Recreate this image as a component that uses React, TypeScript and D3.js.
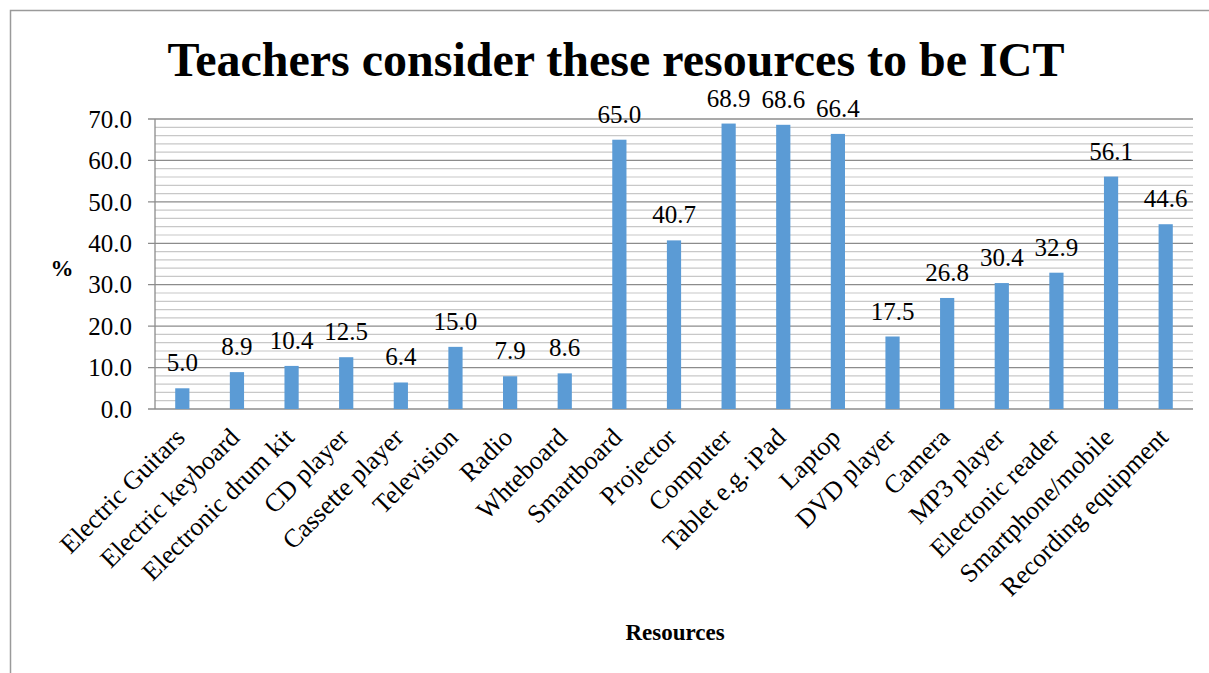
import React from "react";
import * as d3 from "d3";

const categories = [
  "Electric Guitars", "Electric keyboard", "Electronic drum kit", "CD player",
  "Cassette player", "Television", "Radio", "Whteboard", "Smartboard", "Projector",
  "Computer", "Tablet e.g. iPad", "Laptop", "DVD player", "Camera", "MP3 player",
  "Electonic reader", "Smartphone/mobile", "Recording equipment",
];
const values = [5.0, 8.9, 10.4, 12.5, 6.4, 15.0, 7.9, 8.6, 65.0, 40.7, 68.9, 68.6, 66.4, 17.5, 26.8, 30.4, 32.9, 56.1, 44.6];
const majorTicks = [0, 10, 20, 30, 40, 50, 60, 70];
const minorTicks = d3.range(0, 70.001, 2);

const W = 1209, H = 673;
const left = 155, right = 1193, top = 119, bottom = 409;
const serif = "Liberation Serif";

export default function App() {
  const x = d3.scaleBand<string>().domain(categories).range([left, right]).paddingInner(0).paddingOuter(0);
  const y = d3.scaleLinear().domain([0, 70]).range([bottom, top]);
  const bw = x.bandwidth() * 0.26;

  return (
    <svg width={W} height={H} style={{ position: "fixed", left: 0, top: 0, background: "#fff" }} fontFamily={serif}>
      <rect x={10.5} y={10.5} width={W + 20} height={H + 20} fill="#fff" stroke="#9a9a9a" strokeWidth={1.5} />
      <text x={616} y={76} textAnchor="middle" fontWeight="bold" fontSize={48}>
        Teachers consider these resources to be ICT
      </text>
      {minorTicks.filter((t) => t % 10 !== 0).map((t) => (
        <line key={"m" + t} x1={left} x2={right} y1={y(t)} y2={y(t)} stroke="#c8c8c8" strokeWidth={1.2} />
      ))}
      {majorTicks.map((t) => (
        <g key={"M" + t}>
          <line x1={left - 7} x2={right} y1={y(t)} y2={y(t)} stroke="#8c8c8c" strokeWidth={1.3} />
          <text x={132} y={y(t)} dy="0.35em" textAnchor="end" fontSize={25}>
            {t.toFixed(1)}
          </text>
        </g>
      ))}
      <line x1={left} x2={left} y1={top} y2={bottom} stroke="#8c8c8c" strokeWidth={1.3} />
      {categories.map((c, i) => {
        const cx = (x(c) as number) + x.bandwidth() / 2;
        return (
          <g key={c}>
            <rect x={cx - bw / 2} y={y(values[i])} width={bw} height={bottom - y(values[i])} fill="#5B9BD5" />
            <text x={cx} y={y(values[i]) - 17} textAnchor="middle" fontSize={25}>
              {values[i].toFixed(1)}
            </text>
            <text
              transform={`translate(${cx + 4},${bottom + 30}) rotate(-45)`}
              textAnchor="end"
              fontSize={26}
            >
              {c}
            </text>
          </g>
        );
      })}
      <text x={62} y={268} dy="0.35em" textAnchor="middle" fontWeight="bold" fontSize={23}>%</text>
      <text x={675} y={632} dy="0.35em" textAnchor="middle" fontWeight="bold" fontSize={23}>Resources</text>
    </svg>
  );
}
